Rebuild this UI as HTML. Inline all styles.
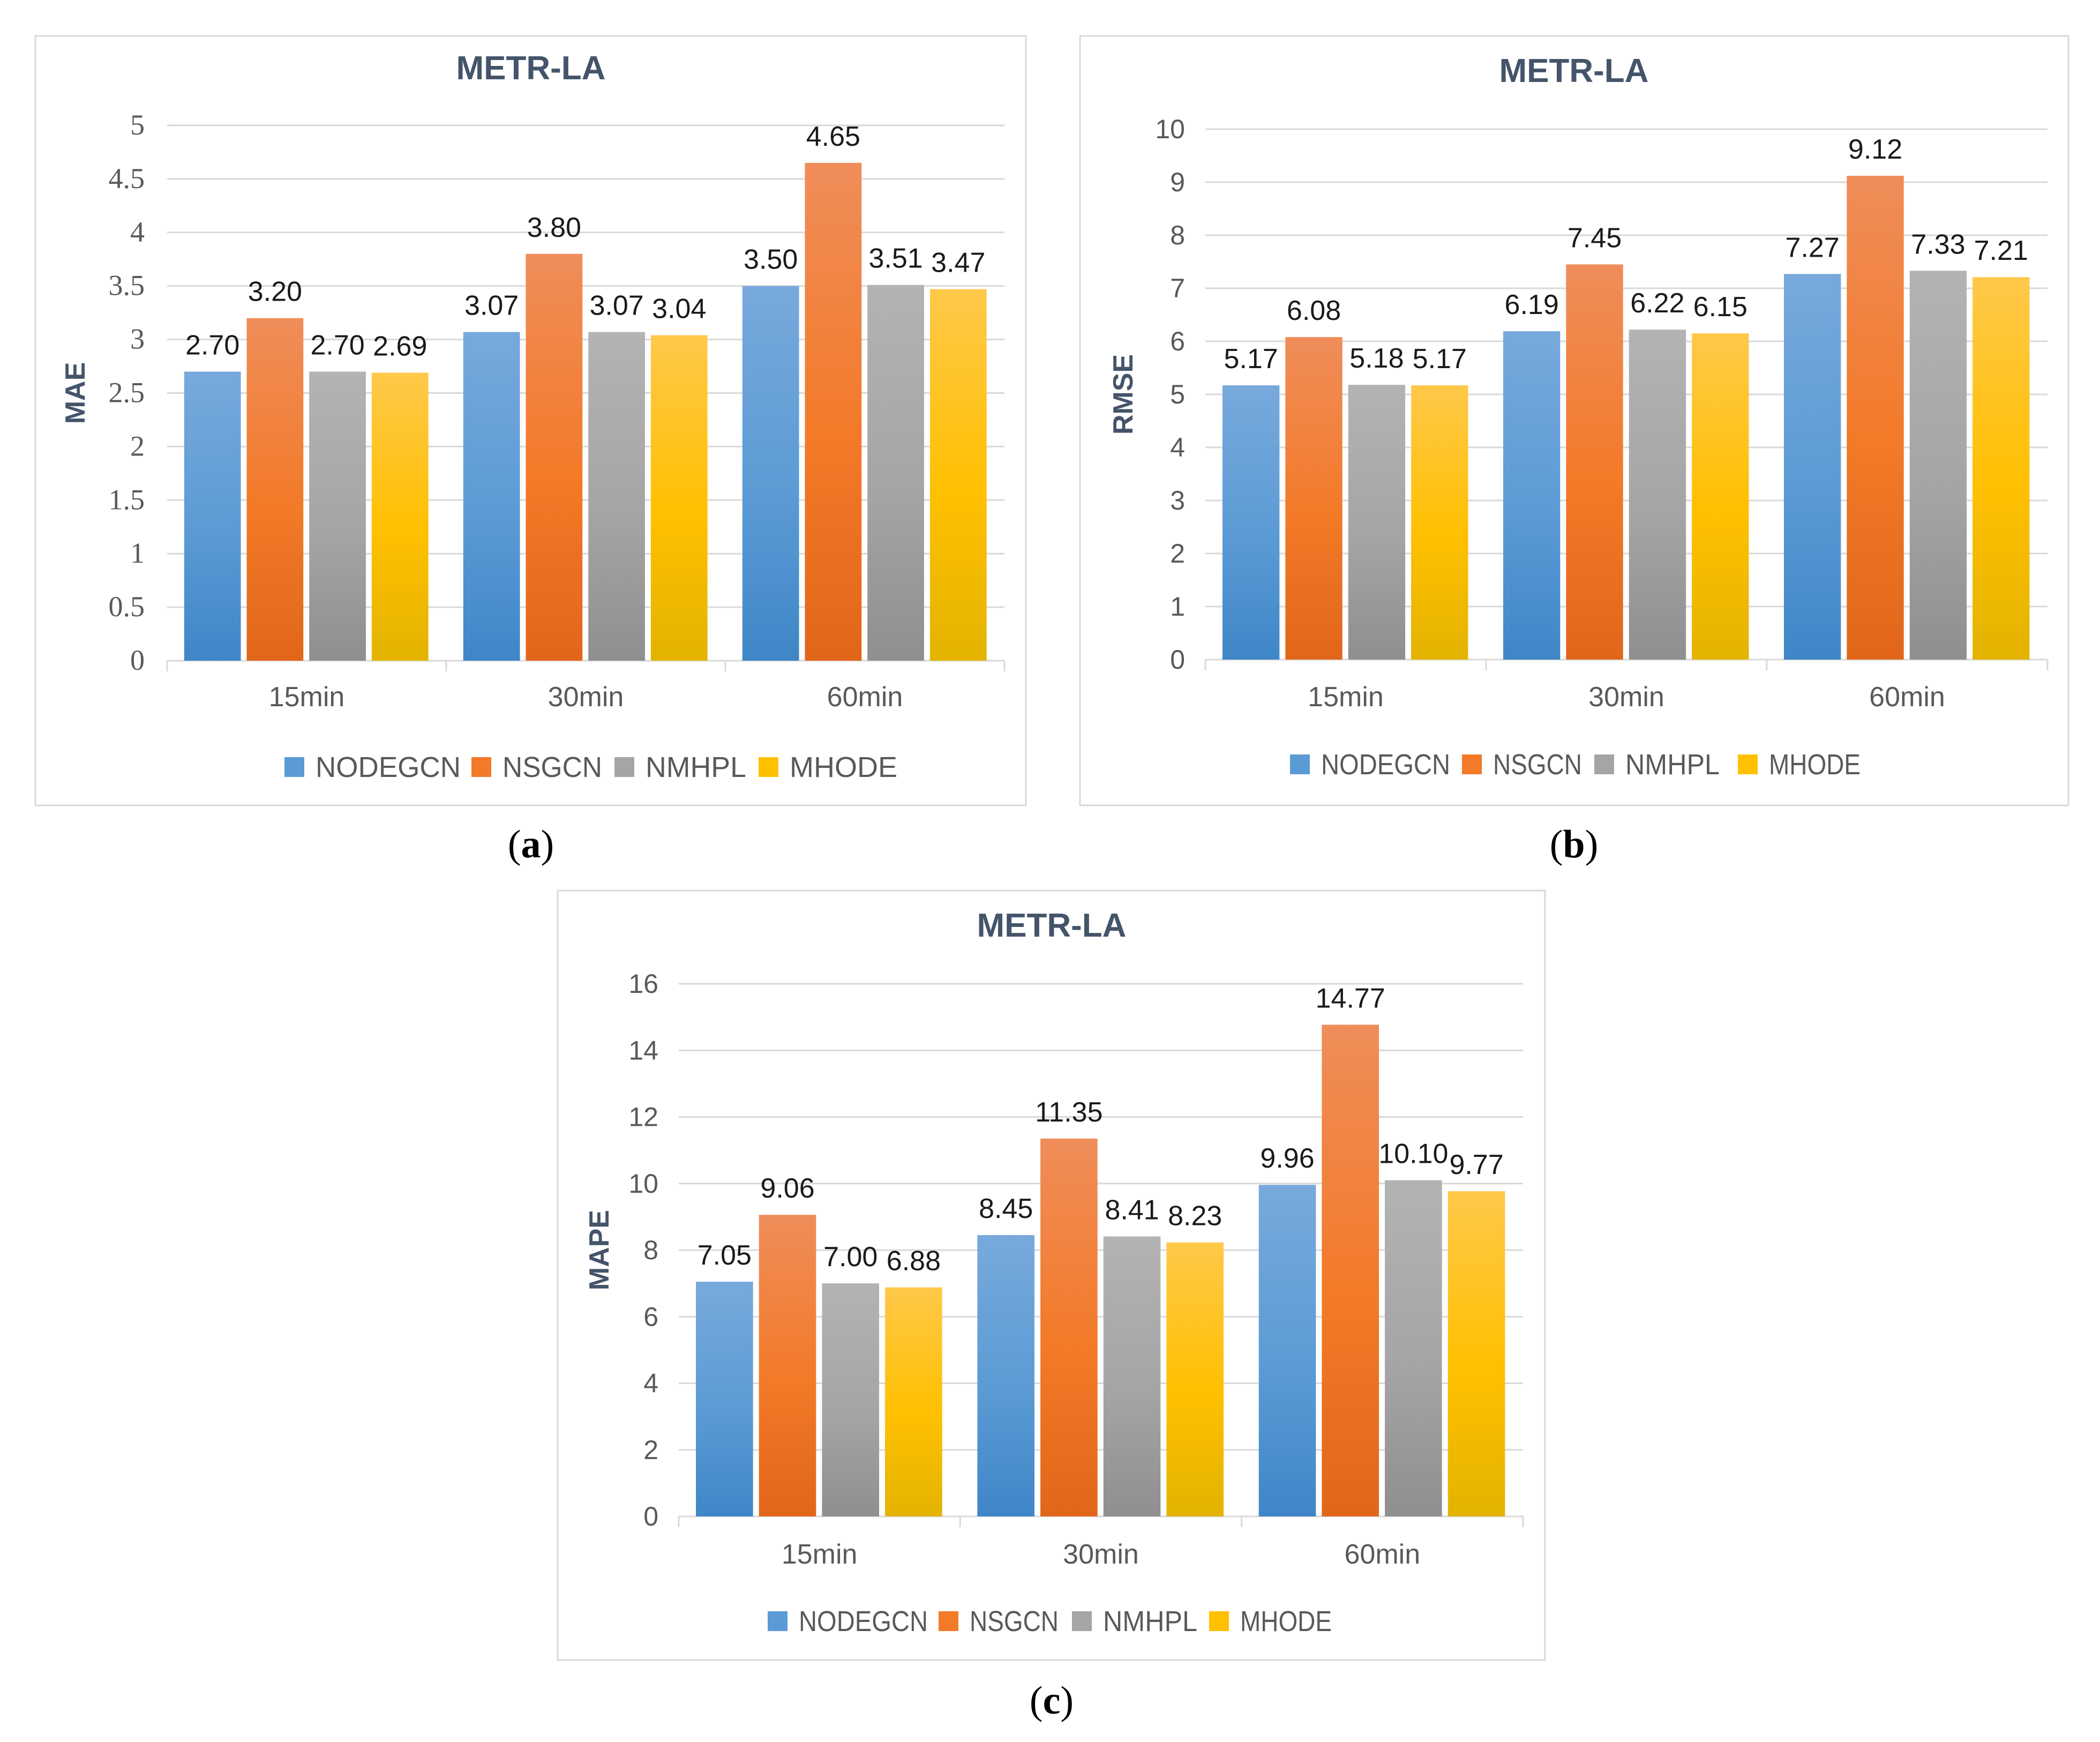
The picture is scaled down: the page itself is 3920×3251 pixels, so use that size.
<!DOCTYPE html>
<html><head><meta charset="utf-8"><style>
html,body{margin:0;padding:0;background:#fff;}
svg{display:block;}
</style></head><body>
<svg id="root" xmlns="http://www.w3.org/2000/svg" width="3920" height="3251" viewBox="0 0 3920 3251">
<defs>
<linearGradient id="gBlue" x1="0" y1="0" x2="0" y2="1"><stop offset="0" stop-color="#78a9dc"/><stop offset="0.55" stop-color="#5b9bd5"/><stop offset="1" stop-color="#3f86c7"/></linearGradient>
<linearGradient id="gOrange" x1="0" y1="0" x2="0" y2="1"><stop offset="0" stop-color="#f08d5a"/><stop offset="0.55" stop-color="#f27a28"/><stop offset="1" stop-color="#e1661a"/></linearGradient>
<linearGradient id="gGray" x1="0" y1="0" x2="0" y2="1"><stop offset="0" stop-color="#b3b3b3"/><stop offset="0.55" stop-color="#a5a5a5"/><stop offset="1" stop-color="#8f8f8f"/></linearGradient>
<linearGradient id="gYellow" x1="0" y1="0" x2="0" y2="1"><stop offset="0" stop-color="#ffc84a"/><stop offset="0.55" stop-color="#ffc000"/><stop offset="1" stop-color="#e3b300"/></linearGradient>
</defs>
</svg>
<script>
const categories = ["15min","30min","60min"];
const seriesNames = ["NODEGCN","NSGCN","NMHPL","MHODE"];
const maeValues = [[2.70,3.07,3.50],[3.20,3.80,4.65],[2.70,3.07,3.51],[2.69,3.04,3.47]];
const maeTicks = ["0","0.5","1","1.5","2","2.5","3","3.5","4","4.5","5"];
const rmseValues = [[5.17,6.19,7.27],[6.08,7.45,9.12],[5.18,6.22,7.33],[5.17,6.15,7.21]];
const rmseTicks = ["0","1","2","3","4","5","6","7","8","9","10"];
const mapeValues = [[7.05,8.45,9.96],[9.06,11.35,14.77],[7.00,8.41,10.10],[6.88,8.23,9.77]];
const mapeTicks = ["0","2","4","6","8","10","12","14","16"];

const NS="http://www.w3.org/2000/svg";
const root=document.getElementById('root');
const fills=["url(#gBlue)","url(#gOrange)","url(#gGray)","url(#gYellow)"];
const legendFills=["#5b9bd5","#f27a28","#a5a5a5","#ffc000"];
function mk(tag,attrs,parent){const e=document.createElementNS(NS,tag);for(const k in attrs)e.setAttribute(k,attrs[k]);(parent||root).appendChild(e);return e;}

function panel(p){
  const g=mk('g',{});
  
  
  const box=mk('rect',{x:p.bx,y:p.by,width:p.bw,height:p.bh,fill:'#fff',stroke:'#d9d9d9','stroke-width':3},g);
  
  
  const t=mk('text',{x:p.cx,y:p.titleY,'text-anchor':'middle','font-family':'Liberation Sans, sans-serif','font-size':62,'font-weight':'bold',fill:'#44546a'},g);
  t.textContent='METR-LA';
  
  
  const ymax=Number(p.ticks[p.ticks.length-1]);
  const yS=v=>p.y0-(v/ymax)*(p.y0-p.yTop);
  p.ticks.forEach(tk=>{
    const y=yS(Number(tk));
    if(Number(tk)>0){const l=mk('line',{x1:p.x0,x2:p.x1,y1:y,y2:y,stroke:'#d9d9d9','stroke-width':3},g);
    
    }
    const tx=mk('text',{x:p.x0-p.tickPad,y:y+17,'text-anchor':'end','font-family':p.tickFont,'font-size':p.tickSize,fill:'#595959'},g);
    tx.textContent=tk;
    
    
  });
  const ax=mk('line',{x1:p.x0,x2:p.x1,y1:p.y0,y2:p.y0,stroke:'#d9d9d9','stroke-width':3},g);
  
  
  const G=(p.x1-p.x0)/categories.length;
  for(let i=0;i<=categories.length;i++){
    const tl=mk('line',{x1:p.x0+i*G,x2:p.x0+i*G,y1:p.y0,y2:p.y0+20,stroke:'#d9d9d9','stroke-width':3},g);
    
    
  }
  const off=G*0.061,bw=G*0.203,gap=G*0.021;
  categories.forEach((c,ci)=>{
    const gx=p.x0+ci*G;
    p.values.forEach((ser,si)=>{
      const v=ser[ci];const x=gx+off+si*(bw+gap);const y=yS(v);
      const r=mk('rect',{x:x,y:y,width:bw,height:p.y0-y,fill:fills[si]},g);
      
      
      const lb=mk('text',{x:x+bw/2,y:y-p.labelGap,'text-anchor':'middle','font-family':'Liberation Sans, sans-serif','font-size':52,fill:'#1a1a1a'},g);
      lb.textContent=v.toFixed(2);
      
      
    });
    const cl=mk('text',{x:gx+G/2,y:p.catY,'text-anchor':'middle','font-family':'Liberation Sans, sans-serif','font-size':52,fill:'#595959'},g);
    cl.textContent=c;
    
    
  });
  const at=mk('text',{x:p.axX,y:(p.y0+p.yTop)/2,'text-anchor':'middle','font-family':'Liberation Sans, sans-serif','font-size':52,'font-weight':'bold',fill:'#44546a',transform:'rotate(-90 '+p.axX+' '+((p.y0+p.yTop)/2)+')'},g);
  at.textContent=p.axTitle;
  
  
  seriesNames.forEach((n,si)=>{
    const lx=p.cx+p.legendOff[si];
    const sq=mk('rect',{x:lx,y:p.legY-37,width:37,height:37,fill:legendFills[si]},g);
    
    
    const lt=mk('text',{x:lx+58,y:p.legY,'font-family':'Liberation Sans, sans-serif','font-size':54,fill:'#595959',textLength:p.legendLen[si],lengthAdjust:'spacingAndGlyphs'},g);
    lt.textContent=n;
    
    
  });
  const cap=mk('text',{x:p.cx,y:p.capY,'text-anchor':'middle','font-family':'Liberation Serif, serif','font-size':74,fill:'#000'},g);
  cap.innerHTML='(<tspan font-weight="bold">'+p.cap+'</tspan>)';
  
  
}

panel({name:'mae-chart',bx:66,by:67,bw:1849,bh:1436,cx:991,titleY:148,x0:312,x1:1875,y0:1233,yTop:234,
  ticks:maeTicks,values:maeValues,tickFont:'Liberation Serif, serif',tickSize:54,tickPad:42,
  labelGap:32,catY:1318,axX:158,axTitle:'MAE',
  legendOff:[-460,-111,156,425],legendLen:[271,186,188,201],legY:1450,capY:1600,cap:'a'});
panel({name:'rmse-chart',bx:2016,by:67,bw:1845,bh:1436,cx:2938,titleY:153,x0:2250,x1:3822,y0:1231,yTop:241,
  ticks:rmseTicks,values:rmseValues,tickFont:'Liberation Sans, sans-serif',tickSize:50,tickPad:38,
  labelGap:32,catY:1318,axX:2114,axTitle:'RMSE',
  legendOff:[-530,-209,38,306],legendLen:[241,166,176,171],legY:1445,capY:1600,cap:'b'});
panel({name:'mape-chart',bx:1041,by:1662,bw:1843,bh:1436,cx:1963,titleY:1748,x0:1267,x1:2843,y0:2830,yTop:1836,
  ticks:mapeTicks,values:mapeValues,tickFont:'Liberation Sans, sans-serif',tickSize:50,tickPad:38,
  labelGap:32,catY:2918,axX:1136,axTitle:'MAPE',
  legendOff:[-530,-211,38,294],legendLen:[241,166,176,171],legY:3044,capY:3198,cap:'c'});
</script>
</body></html>
